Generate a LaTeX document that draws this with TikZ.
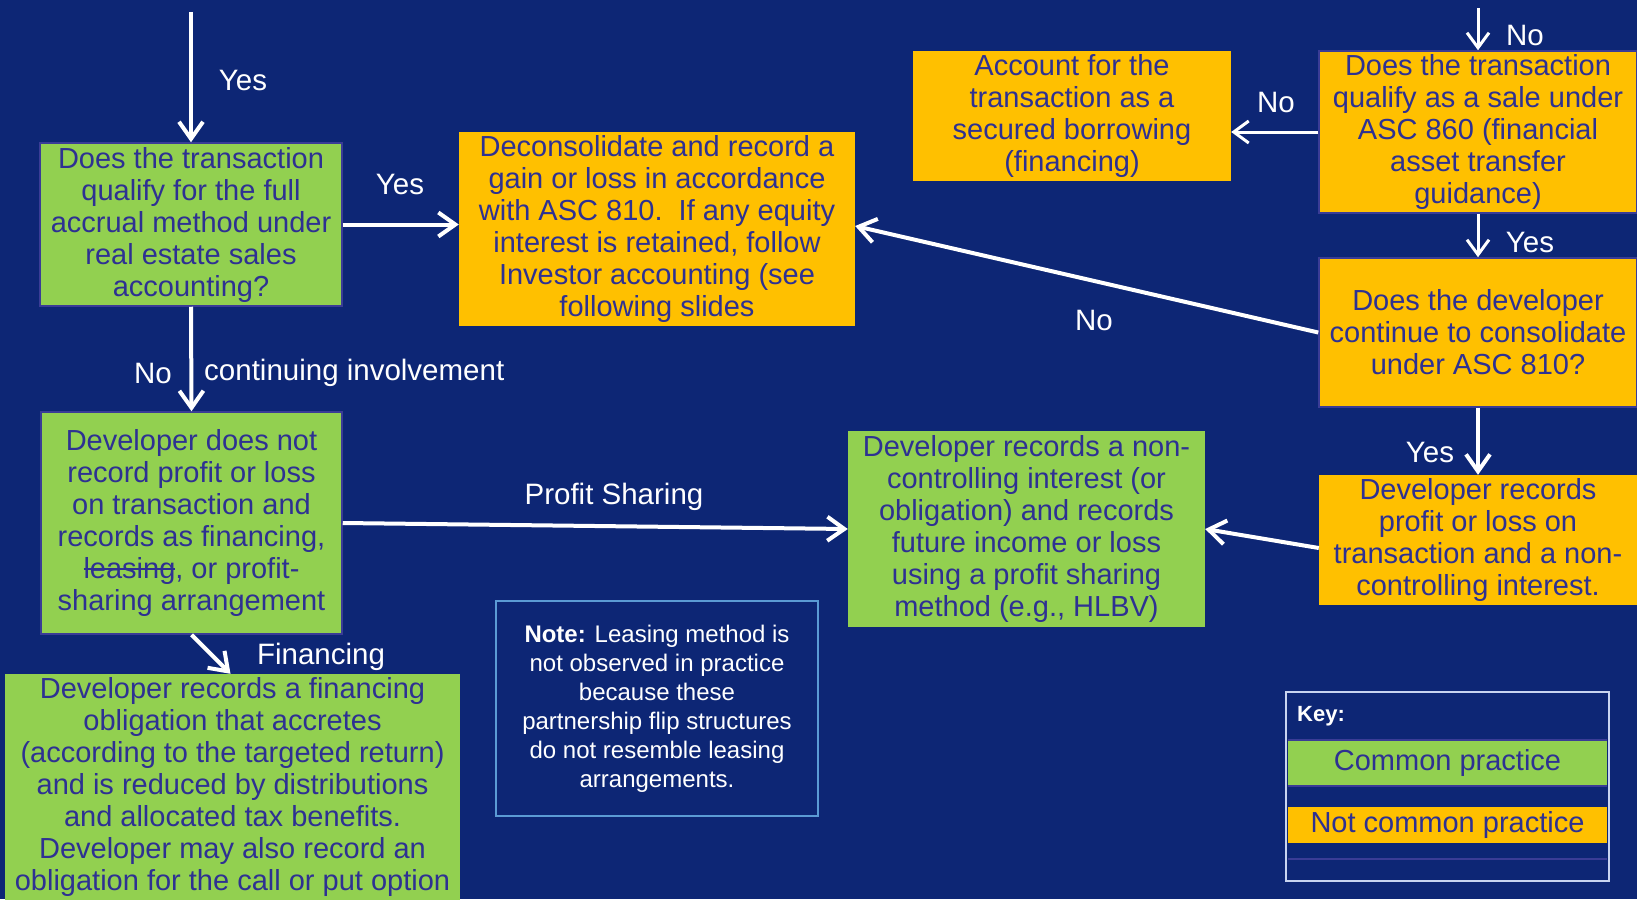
\documentclass[tikz,border=0pt]{standalone}
\usepackage{fontspec}
\setmainfont{Liberation Sans}
\usetikzlibrary{arrows.meta}
\definecolor{bg}{RGB}{13,38,117}
\definecolor{gr}{RGB}{146,208,80}
\definecolor{og}{RGB}{255,192,0}
\definecolor{tx}{RGB}{46,49,146}
\definecolor{bd}{RGB}{58,60,150}
\definecolor{notebd}{RGB}{91,155,213}
\definecolor{keybd}{RGB}{200,212,240}
\newcommand{\mystrike}[1]{\setbox0\hbox{#1}\rlap{\rule[0.3em]{\wd0}{1.5pt}}\box0}
\begin{document}
\begin{tikzpicture}[x=1pt,y=-1pt,
  box/.style={inner sep=0pt, align=center, text=tx, font=\fontsize{29}{32}\selectfont},
  grbox/.style={box, fill=gr},
  ogbox/.style={box, fill=og},
  edged/.style={draw=bd, line width=1.5pt},
  arr/.style={draw=white, line width=4pt, -{Straight Barb[length=17pt,width=24pt,line width=4pt]}},
  arrthin/.style={draw=white, line width=3pt, -{Straight Barb[length=15pt,width=22pt,line width=3pt]}},
  lbl/.style={text=white, font=\fontsize{29.5}{32}\selectfont, inner sep=0pt},
]
\fill[bg] (0,0) rectangle (1637,899);
\useasboundingbox (0,0) rectangle (1637,899);

% boxes
\node[grbox, edged, minimum width=302pt, minimum height=163pt] (q1) at (191,224.5)
  {Does the transaction\\qualify for the full\\accrual method under\\real estate sales\\accounting?};
\node[ogbox, minimum width=396pt, minimum height=194pt] (dec) at (657,229)
  {Deconsolidate and record a\\gain or loss in accordance\\with ASC 810.\ \ If any equity\\interest is retained, follow\\Investor accounting (see\\following slides};
\node[ogbox, minimum width=318pt, minimum height=130pt] (acc) at (1072,116)
  {Account for the\\transaction as a\\secured borrowing\\(financing)};
\node[ogbox, edged, minimum width=318pt, minimum height=162pt] (asc) at (1478,132)
  {Does the transaction\\qualify as a sale under\\ASC 860 (financial\\asset transfer\\guidance)};
\node[ogbox, edged, minimum width=318pt, minimum height=149pt] (cons) at (1478,332.5)
  {Does the developer\\continue to consolidate\\under ASC 810?};
\node[ogbox, minimum width=318pt, minimum height=130pt] (devrec) at (1478,540)
  {Developer records\\profit or loss on\\transaction and a non-\\controlling interest.};
\node[grbox, minimum width=357pt, minimum height=196pt] (nci) at (1026.5,529)
  {Developer records a non-\\controlling interest (or\\obligation) and records\\future income or loss\\using a profit sharing\\method (e.g., HLBV)};
\node[grbox, edged, minimum width=301pt, minimum height=222pt] (devnot) at (191.5,523)
  {Developer does not\\record profit or loss\\on transaction and\\records as financing,\\\mystrike{leasing}, or profit-\\sharing arrangement};
\node[grbox, minimum width=455pt, minimum height=226pt] (fin) at (232.5,787)
  {Developer records a financing\\obligation that accretes\\(according to the targeted return)\\and is reduced by distributions\\and allocated tax benefits.\\Developer may also record an\\obligation for the call or put option};
\node[draw=notebd, line width=1.5pt, minimum width=322pt, minimum height=215pt, inner sep=0pt,
      align=center, text=white, font=\fontsize{24}{29}\selectfont] (note) at (657,708.5)
  {\textbf{Note:} Leasing method is\\not observed in practice\\because these\\partnership flip structures\\do not resemble leasing\\arrangements.};

% key
\node[draw=keybd, line width=2pt, minimum width=323pt, minimum height=189pt, inner sep=0pt] (key) at (1447.5,786.5) {};
\node[text=white, font=\bfseries\fontsize{22}{26}\selectfont, anchor=west, inner sep=0pt] (keylbl) at (1297,716) {Key:};
\node[grbox, minimum width=319pt, minimum height=46pt] (kc) at (1447.5,763) {Common practice};
\node[ogbox, minimum width=319pt, minimum height=36pt] (kn) at (1447.5,825) {Not common practice};
\draw[bd, line width=1.5pt] (kc.north west) -- (kc.north east);
\draw[bd, line width=1.5pt] (kc.south west) -- (kc.south east);
\coordinate (kl1) at (1288,859);
\coordinate (kl2) at (1607,859);
\draw[bd, line width=1.5pt] (kl1) -- (kl2);

% connectors
\coordinate (s1) at (191,12);
\draw[arr] (s1) -- (q1.north);
\draw[arr] (q1.east) -- (q1.east -| dec.west);
\draw[arr] (q1.south) -- (devnot.north);
\coordinate (s2) at (1478,8);
\draw[arrthin] (s2) -- (asc.north);
\draw[arrthin] (asc.west) -- (asc.west -| acc.east);
\draw[arrthin] (asc.south) -- (cons.north);
\draw[arr] (cons.west) -- ([yshift=3pt]dec.east);
\draw[arr] (cons.south) -- (devrec.north);
\draw[arr] ([yshift=-8pt]devrec.west) -- (nci.east);
\draw[arr] (devnot.east) -- (nci.west);
\draw[arr] (devnot.south) -- ([xshift=-2pt]fin.north);

% labels
\node[lbl] (l1) at (243,80) {Yes};
\node[lbl] (l2) at (400,184) {Yes};
\node[lbl] (l3) at (153,373) {No};
\node[lbl, anchor=west] (l4) at (204,373) {continuing involvement};
\node[lbl] (l5) at (1525,35) {No};
\node[lbl] (l6) at (1276,102) {No};
\node[lbl] (l7) at (1530,242) {Yes};
\node[lbl] (l8) at (1094,320) {No};
\node[lbl] (l9) at (1430,452) {Yes};
\node[lbl] (l10) at (614,497) {Profit Sharing};
\node[lbl] (l11) at (321,657) {Financing};
\end{tikzpicture}
\end{document}
